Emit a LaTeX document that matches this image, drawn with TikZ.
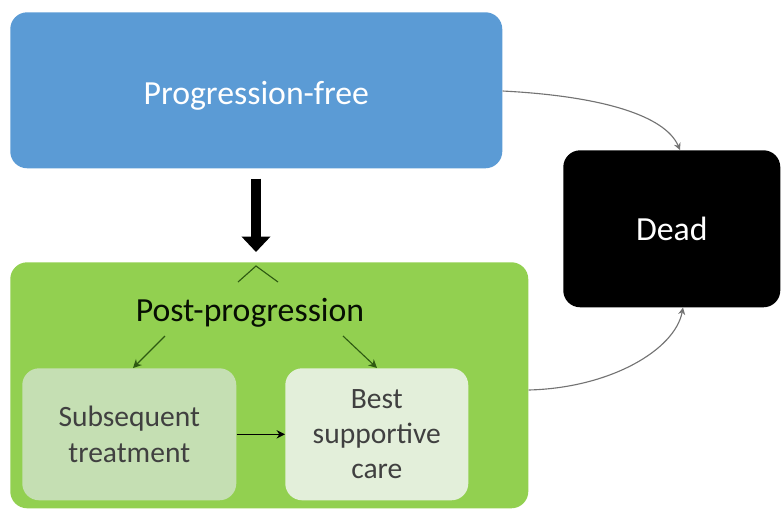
\documentclass[tikz,border=0pt]{standalone}
\usepackage{fontspec}
\setmainfont{Carlito}
\usetikzlibrary{positioning,arrows.meta}

\definecolor{pfblue}{HTML}{5B9BD5}
\definecolor{ppgreen}{HTML}{92D050}
\definecolor{stgreen}{HTML}{C5DFB3}
\definecolor{bsgreen}{HTML}{E3EFDA}
\definecolor{darkgreen}{HTML}{2E5A12}

\begin{document}
\begin{tikzpicture}
[x=0.025cm, y=-0.025cm,
    >=Stealth,
    state/.style={rectangle, rounded corners=12pt, anchor=north west,
    inner sep=0pt, align=center},
    big/.style={font=\fontsize{24}{28}\selectfont},
    small/.style={font=\fontsize{21}{25}\selectfont, text=black!75},
    exit/.style={draw=black!55, thick, -{Stealth[length=5pt,width=5pt]}, black!55},
    inner/.style={draw=darkgreen, thick, -{Stealth[length=6pt,width=6pt]}},
    ]
    \useasboundingbox (0,0) rectangle (782,515);

    % states
    \node[state, fill=pfblue, minimum width=492*0.025cm, minimum height=156*0.025cm,
      big, text=white, text height=24pt] (pf) at (10,12) {Progression-free};
    \node[state, fill=black, minimum width=217*0.025cm, minimum height=157*0.025cm,
      big, text=white] (dead) at (563,150) {Dead};
    \node[state, fill=ppgreen, minimum width=518*0.025cm, minimum height=246*0.025cm]
      (pp) at (10,262) {};
    \node[big, text=black!85!darkgreen] (pptext) at (250,313) {Post-progression};

    % sub-states
    \node[state, fill=stgreen, minimum width=214*0.025cm, minimum height=132*0.025cm,
      small] (st) at (22,368) {Subsequent\\treatment};
    \node[state, fill=bsgreen, minimum width=183*0.025cm, minimum height=132*0.025cm,
      small] (bsc) at (285,368) {Best\\supportive\\care};

    % progression arrow and caret
    \coordinate (tip) at (256,266);
    \draw[line width=7pt, -{Triangle[length=11pt,width=20pt]}] (pf.south -| tip) ++(0,10) -- (256,252);
    \draw[darkgreen, thick] (238,282) -- (tip) -- (278,282);

    % arrows inside post-progression
    \draw[inner] (165,336) -- (st.north -| 133,0);
    \draw[inner] (343,336) -- (bsc.north -| 377,0);
    \draw[inner, black] (st.east) -- (bsc.west);

    % transitions to dead
    \draw[exit] (pf.east |- 0,91) .. controls (600,96) and (665,115) .. (dead.north -| 680,0);
    \draw[exit] (pp.east |- 0,390) .. controls (610,388) and (675,350) .. (dead.south -| 683,0);
\end{tikzpicture}
\end{document}
